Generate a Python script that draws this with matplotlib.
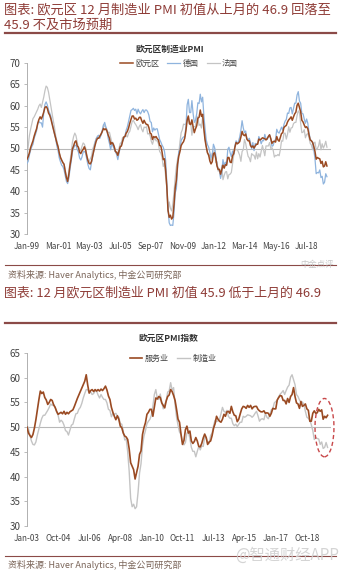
import matplotlib
matplotlib.use("Agg")
import matplotlib.pyplot as plt
from matplotlib.patches import Ellipse

plt.rcParams['font.family'] = ['Noto Sans CJK SC', 'DejaVu Sans']

# ---- data -----------------------------------------------------------------
# Eurozone manufacturing PMI, monthly Jan-1999 .. Dec-2019
ez_mfg = [
    47.5, 48.1, 49.0, 50.2, 51.0, 51.8, 52.9, 53.8, 54.6, 55.9, 56.8, 57.4,
    56.9, 57.6, 58.5, 59.6, 59.8, 59.4, 58.3, 57.8, 56.9, 55.7, 54.6, 53.5,
    52.4, 51.3, 50.4, 49.0, 47.9, 47.3, 46.7, 46.3, 44.6, 43.2, 42.3, 43.9,
    46.1, 47.7, 49.9, 50.6, 51.5, 51.8, 50.6, 50.3, 49.1, 48.8, 49.4, 49.8,
    50.4, 49.7, 48.3, 47.2, 46.5, 46.4, 47.0, 48.4, 49.6, 50.8, 51.8, 52.4,
    52.4, 52.9, 53.4, 54.0, 54.7, 54.4, 54.6, 54.0, 53.1, 52.4, 51.0, 51.4,
    51.1, 50.4, 49.3, 49.1, 48.4, 49.4, 50.4, 50.6, 51.7, 52.7, 52.8, 53.6,
    54.0, 54.8, 55.9, 56.8, 57.6, 57.6, 56.9, 57.1, 56.6, 56.8, 57.3, 57.3,
    56.5, 55.9, 56.6, 56.0, 55.6, 55.6, 54.9, 53.6, 53.4, 52.1, 52.8, 52.6,
    52.8, 52.3, 52.0, 50.7, 50.6, 49.2, 47.4, 47.6, 45.0, 41.1, 35.6, 33.9,
    34.4, 33.5, 33.9, 36.8, 40.7, 42.6, 46.3, 48.2, 49.3, 50.7, 51.2, 51.6,
    52.4, 54.2, 56.6, 57.6, 55.8, 55.6, 56.7, 55.1, 53.7, 54.6, 55.3, 57.1,
    57.3, 59.0, 57.5, 58.0, 54.6, 52.0, 50.4, 49.0, 48.5, 47.1, 46.4, 46.9,
    48.8, 49.0, 47.7, 45.9, 45.1, 45.1, 44.0, 45.1, 46.1, 45.4, 46.2, 46.1,
    47.9, 47.9, 46.8, 46.7, 48.3, 48.8, 50.3, 51.4, 51.1, 51.3, 51.6, 52.7,
    54.0, 53.2, 53.0, 53.4, 52.2, 51.8, 51.8, 50.7, 50.3, 50.6, 50.1, 50.6,
    51.0, 51.0, 52.2, 52.0, 52.2, 52.5, 52.4, 52.3, 52.0, 52.3, 52.8, 53.2,
    52.3, 51.2, 51.6, 51.7, 51.5, 52.8, 52.0, 51.7, 52.6, 53.5, 53.7, 54.9,
    55.2, 55.4, 56.2, 56.7, 57.0, 57.4, 56.6, 57.4, 58.1, 58.5, 60.1, 60.6,
    59.6, 58.6, 56.6, 56.2, 55.5, 54.9, 55.1, 54.6, 53.2, 52.0, 51.8, 51.4,
    50.5, 49.3, 47.5, 47.9, 47.7, 47.6, 46.5, 47.0, 45.7, 45.9, 46.9, 45.9,
]

# Germany manufacturing PMI, Jan-1999 .. Dec-2019
de_mfg = [
    46.5, 47.0, 48.5, 49.6, 50.4, 51.0, 52.4, 53.2, 54.1, 55.8, 56.3, 56.0,
    56.0, 55.0, 58.4, 60.3, 60.9, 60.2, 59.0, 58.3, 57.5, 56.0, 54.8, 53.4,
    52.3, 50.6, 49.5, 47.8, 46.9, 46.1, 45.8, 45.0, 43.6, 42.3, 41.8, 43.0,
    45.2, 47.0, 49.2, 50.1, 50.8, 50.7, 49.8, 49.2, 47.8, 47.3, 48.0, 49.2,
    49.3, 49.0, 47.5, 46.2, 45.3, 45.0, 46.8, 48.1, 49.6, 51.4, 52.3, 52.9,
    53.1, 52.4, 53.2, 54.3, 55.4, 56.1, 55.0, 54.1, 52.3, 51.2, 49.7, 51.2,
    50.5, 49.9, 49.2, 48.6, 47.4, 48.9, 50.3, 50.8, 51.7, 52.3, 53.0, 54.3,
    55.1, 56.3, 57.6, 58.9, 59.1, 59.4, 58.9, 59.2, 58.1, 59.2, 58.5, 58.1,
    58.7, 59.1, 58.4, 59.0, 59.0, 58.6, 57.8, 56.3, 56.1, 53.9, 54.8, 54.3,
    54.6, 54.6, 53.4, 52.1, 51.5, 50.8, 50.3, 49.4, 47.3, 42.1, 35.9, 32.6,
    32.0, 32.1, 32.0, 34.9, 39.6, 40.6, 45.4, 49.3, 49.6, 51.9, 52.4, 52.7,
    52.8, 55.1, 60.2, 61.5, 58.4, 58.4, 61.2, 58.2, 56.1, 56.6, 58.1, 60.7,
    60.5, 62.7, 60.9, 62.0, 57.7, 54.6, 52.0, 50.9, 50.3, 49.1, 47.9, 48.4,
    51.0, 50.2, 48.4, 46.2, 45.2, 45.0, 43.0, 44.7, 47.4, 46.0, 46.8, 46.0,
    49.8, 50.3, 49.0, 48.1, 49.4, 48.6, 50.7, 51.8, 51.1, 51.7, 52.7, 54.3,
    56.5, 54.8, 53.7, 54.1, 52.3, 52.0, 52.4, 51.4, 49.9, 51.4, 49.5, 51.2,
    50.9, 51.1, 52.8, 52.1, 51.1, 51.9, 51.8, 53.3, 52.3, 52.1, 52.9, 53.2,
    52.3, 50.5, 50.7, 51.8, 52.1, 54.5, 53.8, 53.6, 54.3, 55.0, 54.3, 55.6,
    56.4, 56.8, 58.3, 58.2, 59.5, 59.6, 58.1, 59.3, 60.6, 60.6, 62.5, 63.3,
    61.1, 60.6, 58.2, 58.1, 56.9, 55.9, 56.9, 55.9, 53.7, 52.2, 51.8, 51.5,
    49.7, 47.6, 44.1, 44.4, 44.3, 45.0, 43.2, 43.5, 41.7, 42.1, 44.1, 43.4,
]

# France manufacturing PMI, Jan-1999 .. Dec-2019
fr_mfg = [
    48.0, 50.5, 53.0, 54.5, 55.8, 57.0, 57.4, 58.0, 58.6, 59.2, 60.0, 60.4,
    59.6, 60.8, 62.0, 63.5, 64.6, 64.3, 63.2, 61.5, 59.8, 58.0, 56.5, 55.0,
    53.0, 51.8, 50.5, 48.9, 48.0, 47.2, 46.8, 46.4, 45.0, 43.3, 42.8, 44.5,
    47.0, 49.0, 51.5, 52.8, 53.6, 53.0, 51.5, 50.2, 49.7, 49.4, 50.5, 51.3,
    51.0, 50.2, 48.5, 47.3, 47.0, 47.6, 48.2, 49.8, 50.7, 51.6, 52.4, 52.6,
    52.4, 52.9, 53.2, 53.8, 55.6, 55.2, 55.0, 54.3, 53.7, 53.8, 52.6, 51.4,
    51.4, 50.5, 49.3, 49.1, 48.9, 50.0, 51.2, 51.4, 52.6, 52.5, 52.8, 53.0,
    52.7, 53.6, 54.0, 55.1, 56.3, 56.6, 56.0, 55.6, 55.1, 54.4, 55.2, 55.6,
    54.5, 53.9, 55.0, 54.9, 55.1, 53.4, 53.5, 53.0, 51.7, 51.0, 52.0, 52.5,
    51.8, 51.8, 51.1, 49.3, 48.9, 47.9, 45.8, 46.6, 43.5, 41.0, 35.2, 37.5,
    36.0, 35.4, 37.0, 39.7, 43.1, 45.7, 47.5, 48.8, 51.6, 53.7, 54.4, 55.7,
    55.6, 55.8, 56.4, 57.3, 55.6, 56.0, 53.1, 55.1, 55.1, 55.2, 57.6, 57.2,
    55.4, 55.7, 54.8, 57.5, 54.9, 52.5, 50.5, 49.1, 48.2, 48.5, 47.3, 48.9,
    48.5, 50.0, 46.7, 46.9, 44.7, 45.2, 43.4, 46.0, 42.7, 43.7, 44.5, 44.6,
    42.9, 43.9, 44.0, 44.4, 46.4, 48.4, 49.7, 49.7, 49.8, 49.1, 48.4, 47.0,
    49.3, 49.7, 52.1, 51.2, 49.6, 48.2, 47.8, 46.9, 48.8, 48.5, 48.4, 47.5,
    49.2, 47.6, 48.8, 48.0, 49.4, 50.7, 49.6, 48.3, 50.6, 50.6, 50.6, 51.4,
    50.0, 50.2, 49.6, 48.0, 48.4, 48.3, 48.6, 48.3, 49.7, 51.8, 51.7, 53.5,
    53.6, 52.2, 53.3, 55.1, 53.8, 54.8, 54.9, 55.8, 56.1, 56.1, 57.7, 58.8,
    58.4, 55.9, 53.7, 53.8, 54.4, 52.5, 53.3, 53.5, 52.5, 51.2, 50.8, 49.7,
    51.2, 51.5, 49.7, 50.0, 50.6, 52.0, 49.7, 51.1, 50.1, 50.7, 51.7, 50.3,
]

# Eurozone services PMI, Jan-2003 .. Dec-2019
ez_svc = [
    50.0, 48.8, 48.3, 47.9, 48.5, 49.8, 51.5, 53.5, 55.5, 57.3, 56.8, 57.1,
    56.0, 55.5, 54.6, 55.0, 55.6, 55.4, 54.5, 54.0, 53.2, 52.6, 52.8, 53.0,
    52.7, 53.2, 52.6, 53.0, 52.7, 53.1, 53.3, 53.5, 54.2, 55.0, 55.8, 56.5,
    57.2, 57.9, 58.6, 59.3, 60.6, 58.5, 56.9, 57.4, 57.6, 57.2, 57.6, 57.3,
    57.6, 57.3, 57.7, 57.4, 57.8, 58.3, 57.5, 56.3, 55.6, 54.0, 53.0, 52.2,
    51.5, 52.3, 51.6, 50.2, 49.9, 48.8, 48.2, 48.0, 47.5, 45.6, 42.8, 42.1,
    41.4, 39.5, 40.8, 42.1, 44.5, 45.2, 48.5, 49.9, 50.9, 52.6, 53.0, 53.6,
    53.6, 52.2, 54.1, 55.9, 55.7, 56.2, 56.0, 54.9, 54.4, 53.9, 55.3, 56.2,
    56.5, 57.6, 57.2, 56.4, 55.4, 53.6, 51.6, 51.0, 48.6, 46.5, 47.3, 49.5,
    50.2, 48.8, 49.2, 47.2, 46.7, 47.1, 47.9, 47.2, 46.1, 46.0, 46.7, 47.8,
    48.6, 47.9, 46.5, 47.0, 47.2, 48.3, 49.8, 50.7, 52.2, 51.6, 51.2, 51.0,
    51.6, 52.6, 52.2, 53.1, 53.2, 52.8, 54.2, 53.1, 52.4, 52.3, 51.1, 51.6,
    52.7, 53.7, 54.2, 54.1, 53.8, 54.4, 54.0, 54.4, 53.7, 54.1, 54.2, 54.2,
    53.6, 53.3, 53.1, 53.1, 53.3, 52.8, 52.9, 52.8, 52.2, 52.8, 53.8, 53.7,
    53.7, 55.5, 56.0, 56.4, 56.3, 55.4, 55.4, 54.7, 55.8, 55.0, 56.2, 56.6,
    58.0, 56.2, 54.9, 54.7, 53.8, 55.2, 54.2, 54.4, 54.7, 53.7, 53.4, 51.2,
    51.2, 52.8, 53.3, 52.8, 52.9, 53.6, 53.2, 53.5, 51.6, 52.2, 51.9, 52.4,
]

top_labels = ['Jan-99', 'Mar-01', 'May-03', 'Jul-05', 'Sep-07',
              'Nov-09', 'Jan-12', 'Mar-14', 'May-16', 'Jul-18']
bottom_labels = ['Jan-03', 'Oct-04', 'Jul-06', 'Apr-08', 'Jan-10',
                 'Oct-11', 'Jul-13', 'Apr-15', 'Jan-17', 'Oct-18']

W, H = 346, 572
BROWN = '#9a4a22'
BLUE = '#8fb4de'
GREY = '#c4c4c4'
HEAD = '#8e3b36'
RULE = '#8b4a47'


def px_axes(fig, left, top, right, bottom):
    """Add axes from pixel box (origin top-left)."""
    return fig.add_axes([left / W, 1 - bottom / H, (right - left) / W, (bottom - top) / H])


def style_axes(ax, ymin, ymax, labels, step):
    ax.set_ylim(ymin, ymax)
    ax.set_yticks(range(ymin, ymax + 1, 5))
    ax.set_xticks(range(0, step * len(labels), step))
    ax.set_xticklabels(labels)
    for side in ['top', 'right', 'bottom']:
        ax.spines[side].set_visible(False)
    ax.spines['left'].set_color('#b0b0b0')
    ax.spines['left'].set_linewidth(0.7)
    ax.tick_params(axis='y', length=2.5, width=0.6, color='#b0b0b0',
                   labelsize=7, labelcolor='#444444', pad=2)
    ax.tick_params(axis='x', length=0, labelsize=5.9, labelcolor='#444444', pad=6)
    ax.axhline(50, color='#b8b8b8', lw=0.8, zorder=1)
    ax.set_facecolor('none')


def main():
    fig = plt.figure(figsize=(W / 100, H / 100), dpi=100)

    # headers
    fig.text(4 / W, 1 - 10 / H, '图表: 欧元区 12 月制造业 PMI 初值从上月的 46.9 回落至',
             color=HEAD, fontsize=9.5, va='center', style='italic')
    fig.text(4 / W, 1 - 25 / H, '45.9 不及市场预期', color=HEAD, fontsize=9.5,
             va='center', style='italic')
    fig.add_artist(plt.Line2D([5 / W, 336 / W], [1 - 33 / H] * 2, color=RULE, lw=1.6))

    fig.text(4 / W, 1 - 293 / H, '图表: 12 月欧元区制造业 PMI 初值 45.9 低于上月的 46.9',
             color=HEAD, fontsize=9.3, va='center', style='italic')
    fig.add_artist(plt.Line2D([5 / W, 336 / W], [1 - 323 / H] * 2, color=RULE, lw=1.6))

    # sources
    fig.add_artist(plt.Line2D([5 / W, 336 / W], [1 - 265 / H] * 2, color=RULE, lw=0.8))
    fig.text(8 / W, 1 - 275 / H, '资料来源: Haver Analytics, 中金公司研究部',
             color='#7a6458', fontsize=6.5, va='center', style='italic')
    fig.text(334 / W, 1 - 265 / H, '中金点评', color='#c8c8c8', fontsize=6,
             va='center', ha='right')
    fig.add_artist(plt.Line2D([5 / W, 336 / W], [1 - 556 / H] * 2, color=RULE, lw=0.8))
    fig.text(8 / W, 1 - 565 / H, '资料来源: Haver Analytics, 中金公司研究部',
             color='#7a6458', fontsize=6.5, va='center', style='italic')
    fig.text(339 / W, 1 - 555 / H, '@智通财经APP', color='#d0d0d0', fontsize=11,
             va='center', ha='right', alpha=0.9)

    # chart 1
    ax1 = px_axes(fig, 27, 63, 331, 234)
    ax1.set_xlim(0, 254.4)
    x1 = range(len(ez_mfg))
    ax1.plot(x1, fr_mfg, color=GREY, lw=0.9, label='法国', zorder=2)
    ax1.plot(x1, de_mfg, color=BLUE, lw=0.9, label='德国', zorder=3)
    ax1.plot(x1, ez_mfg, color=BROWN, lw=1.1, label='欧元区', zorder=4)
    style_axes(ax1, 30, 70, top_labels, 26)
    h, l = ax1.get_legend_handles_labels()
    ax1.legend(h[::-1], l[::-1], loc='center', bbox_to_anchor=(0.5, 1.0), ncol=3,
               frameon=False, fontsize=5.8, handlelength=1.6, handletextpad=0.3,
               columnspacing=1.0, labelcolor='#444444')
    fig.text(170 / W, 1 - 49 / H, '欧元区制造业PMI', fontsize=6.3, ha='center',
             va='center', weight='bold', color='#333333')

    # chart 2
    ax2 = px_axes(fig, 27, 353, 331, 526)
    ax2.set_xlim(0, 205.3)
    x2 = range(len(ez_svc))
    ax2.plot(x2, ez_mfg[48:], color=GREY, lw=1.0, label='制造业', zorder=2)
    ax2.plot(x2, ez_svc, color=BROWN, lw=1.2, label='服务业', zorder=3)
    style_axes(ax2, 30, 65, bottom_labels, 21)
    h, l = ax2.get_legend_handles_labels()
    ax2.legend(h[::-1], l[::-1], loc='center', bbox_to_anchor=(0.48, 0.97), ncol=2,
               frameon=False, fontsize=5.8, handlelength=1.6, handletextpad=0.3,
               columnspacing=1.0, labelcolor='#444444')
    fig.text(168 / W, 1 - 338 / H, '欧元区PMI指数', fontsize=6.3, ha='center',
             va='center', weight='bold', color='#333333')
    ax2.add_patch(Ellipse((200.9, 49.9), 12.8, 11.8, fill=False, ec='#c8484a',
                          ls=(0, (3, 2)), lw=1.0, clip_on=False, zorder=5))

    fig.savefig('out.png', dpi=100, facecolor='white')


if __name__ == "__main__":
    main()
